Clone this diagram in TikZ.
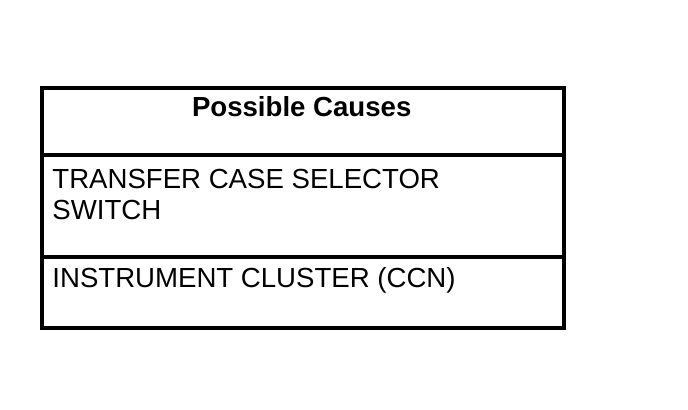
\documentclass[tikz,border=0pt]{standalone}
\usepackage{fontspec}
\setmainfont{Liberation Sans}
\usetikzlibrary{positioning}
\newcommand{\drawt}{\draw[line width=2pt]}

\begin{document}
\begin{tikzpicture}[x=0.5pt,y=-0.5pt,font=\fontsize{13.8}{15.85}\selectfont]
\useasboundingbox (0,0) rectangle (688,410);
% Khung bang
\drawt (41.5,88) rectangle (564,327.5);
\drawt (41.5,155.5) -- (564,155.5);
\drawt (41.5,257.5) -- (564,257.5);

% Tieu de
\node[inner sep=0,anchor=base] (tieude) at (301.7,116.7) {\bfseries Possible Causes};

% Cac dong
\node[inner sep=0,anchor=base west] (dong1) at (52,188.3) {TRANSFER CASE SELECTOR};
\node[inner sep=0,anchor=base west] (dong1b) at (52,220) {SWITCH};
\node[inner sep=0,anchor=base west] (dong2) at (52,287.3) {INSTRUMENT CLUSTER (CCN)};

\end{tikzpicture}
\end{document}
